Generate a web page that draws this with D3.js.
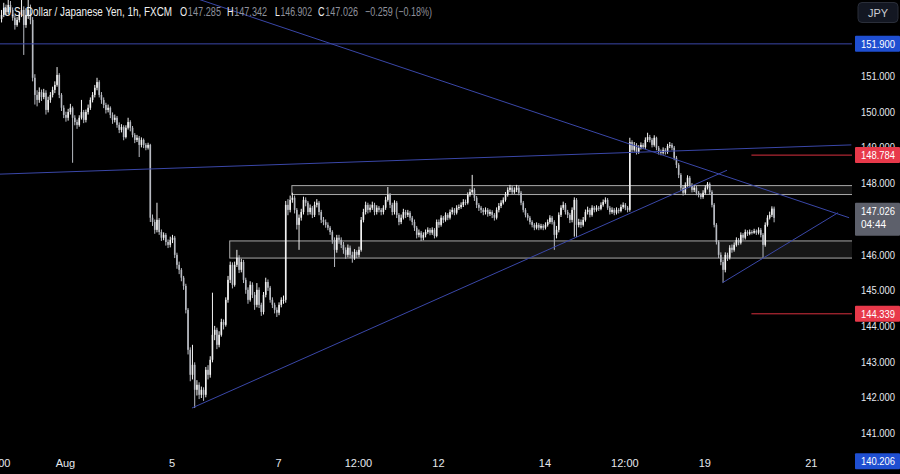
<!DOCTYPE html>
<html><head><meta charset="utf-8">
<script src="https://cdn.jsdelivr.net/npm/d3@7"></script>
<style>html,body{margin:0;padding:0;background:#000;overflow:hidden}svg{display:block}</style>
</head><body><svg id="c" width="900" height="474"></svg>
<script>
// ---------- DATA ----------
const firstBarIndex = -77;   // bar index of first candle (0 = Aug 5 00:00, hourly bars)
const firstOpen = 152.60;
const closes = [
152.71,152.91,152.79,152.99,152.85,152.63,152.43,152.57,152.71,152.85,152.43,152.71,152.85,152.57,
150.95,150.47,150.33,150.55,150.41,150.53,150.05,150.33,150.47,150.61,150.75,151.03,150.47,150.11,149.91,
149.83,149.99,150.11,149.83,149.71,149.63,149.83,149.99,149.77,149.99,150.11,150.33,150.47,150.67,150.83,150.47,150.33,150.19,150.05,150.11,149.91,149.77,149.83,149.63,
149.49,149.57,149.29,149.55,149.71,149.55,149.35,149.21,149.27,149.07,149.21,149.07,148.99,149.07,147.03,146.91,146.69,146.97,146.63,146.47,146.55,146.35,146.27,146.41,
146.47,145.99,145.71,145.57,145.35,145.12,144.45,143.33,142.63,142.91,142.21,142.35,142.07,142.21,142.07,142.77,142.63,143.05,143.75,143.89,143.47,143.75,144.11,144.03,
144.73,145.29,145.71,145.15,145.71,145.91,145.57,145.79,145.29,145.01,144.73,145.15,144.87,144.59,145.01,144.59,144.39,144.87,145.23,145.07,144.73,144.59,144.45,144.37,
144.59,144.73,144.73,147.39,147.25,147.53,147.59,147.25,146.83,147.03,147.19,147.53,147.45,147.19,147.31,147.11,147.39,147.45,147.19,146.97,146.91,146.83,146.75,146.63,
146.41,146.13,146.47,146.41,146.27,146.13,145.99,146.19,145.99,145.91,146.07,145.99,146.13,146.97,147.19,147.39,147.25,147.31,147.39,147.19,147.31,147.25,147.19,147.31,
147.53,147.67,147.39,147.19,147.45,147.11,146.91,147.03,147.19,147.11,147.17,147.03,146.91,146.75,146.55,146.61,146.47,146.55,146.63,146.69,146.61,146.69,146.52,146.91,
146.83,147.03,146.97,147.11,147.03,147.19,147.25,147.17,147.31,147.33,147.39,147.47,147.45,147.67,147.75,147.81,147.59,147.39,147.31,147.25,147.19,147.25,147.14,147.19,
147.11,147.03,147.25,147.36,147.45,147.53,147.67,147.81,147.87,147.75,147.81,147.87,147.73,147.45,147.25,147.11,147.03,146.91,146.83,146.75,146.83,146.75,146.80,146.75,
146.83,146.91,147.03,146.91,146.55,146.69,147.11,147.31,147.39,147.19,147.11,146.97,147.25,147.53,146.83,146.91,146.83,146.97,147.19,147.25,147.11,147.31,147.25,147.31,
147.28,147.39,147.47,147.53,147.31,147.19,147.25,147.17,147.25,147.22,147.33,147.39,147.31,147.25,149.15,148.93,149.07,148.87,148.99,149.07,149.01,149.21,149.29,149.21,
149.07,149.27,148.99,148.87,148.85,148.93,148.87,149.04,149.07,148.99,148.71,148.51,148.23,147.87,147.73,147.95,148.15,147.95,147.81,147.87,147.73,147.67,147.61,147.73,
147.87,147.98,147.75,147.39,146.83,146.35,145.99,145.79,145.57,145.99,145.91,146.19,146.13,146.27,146.41,146.33,146.55,146.47,146.63,146.58,146.63,146.61,146.66,146.61,
146.69,146.55,146.27,146.83,147.03,147.11,147.285,147.026];
const highs = [
152.85,153.05,153.00,153.30,153.10,152.92,152.70,152.65,152.80,153.20,152.95,152.90,153.25,153.00,
152.65,151.05,150.60,150.68,150.62,150.64,150.60,150.42,150.55,150.70,150.85,151.25,151.08,150.52,150.18,
150.00,150.08,150.22,150.15,149.90,149.78,149.90,150.33,150.05,150.06,150.20,150.40,150.55,150.75,150.95,150.88,150.55,150.40,150.25,150.20,150.15,149.98,149.92,149.88,
149.70,149.65,149.62,149.62,149.83,149.76,149.60,149.40,149.35,149.32,149.28,149.25,149.12,149.13,149.10,147.12,146.98,147.45,147.02,146.70,146.62,146.60,146.42,146.50,
146.55,146.52,146.05,145.80,145.62,145.40,145.18,144.50,143.40,143.47,142.98,142.48,142.42,142.30,142.28,142.85,142.90,143.15,144.93,144.00,143.95,143.85,144.20,144.18,
144.80,145.40,145.80,145.78,145.80,146.13,145.98,145.88,145.85,145.35,145.08,145.25,145.22,144.95,145.20,145.08,144.65,144.95,145.35,145.30,145.12,144.80,144.65,144.52,
144.66,144.80,144.85,147.50,147.55,147.65,147.73,147.65,147.30,147.12,147.28,147.62,147.60,147.50,147.40,147.36,147.48,147.55,147.50,147.25,147.05,146.98,146.90,146.80,
146.68,146.48,146.55,146.55,146.48,146.35,146.20,146.28,146.25,146.08,146.15,146.12,146.22,147.05,147.28,147.48,147.45,147.40,147.48,147.45,147.38,147.36,147.30,147.38,
147.62,147.89,147.72,147.45,147.52,147.50,147.16,147.12,147.28,147.25,147.25,147.22,147.08,146.98,146.80,146.70,146.66,146.62,146.70,146.76,146.74,146.76,146.74,146.98,
146.98,147.10,147.08,147.18,147.16,147.26,147.32,147.30,147.38,147.40,147.46,147.55,147.54,147.74,147.84,148.23,147.86,147.64,147.44,147.36,147.30,147.32,147.30,147.26,
147.24,147.16,147.32,147.44,147.52,147.60,147.75,147.88,147.95,147.92,147.88,147.95,147.92,147.78,147.50,147.30,147.16,147.08,146.96,146.88,146.90,146.88,146.86,146.85,
146.90,146.98,147.10,147.08,146.96,146.80,147.18,147.38,147.48,147.44,147.25,147.16,147.32,147.60,147.58,147.00,146.98,147.05,147.26,147.34,147.30,147.38,147.36,147.38,
147.36,147.46,147.54,147.60,147.58,147.36,147.32,147.30,147.32,147.30,147.40,147.46,147.44,147.36,149.27,149.20,149.15,149.12,149.06,149.14,149.12,149.28,149.41,149.35,
149.26,149.34,149.30,149.04,148.94,149.00,148.98,149.10,149.15,149.12,149.04,148.76,148.56,148.28,147.94,148.02,148.22,148.20,148.00,147.94,147.92,147.78,147.72,147.80,
147.94,148.03,148.02,147.80,147.44,146.88,146.40,146.06,145.86,146.06,146.05,146.26,146.28,146.34,146.48,146.46,146.62,146.60,146.70,146.68,146.70,146.68,146.72,146.70,
146.76,146.74,146.60,146.90,147.10,147.20,147.35,147.342];
const lows = [
152.50,152.65,152.70,152.72,152.78,152.55,152.30,152.38,152.50,152.65,151.59,152.35,152.60,152.45,
150.85,150.20,150.15,150.25,150.30,150.35,149.92,149.98,150.25,150.40,150.52,150.70,150.38,150.02,149.82,
149.72,149.75,149.92,148.57,149.62,149.52,149.58,149.78,149.68,149.70,149.92,150.05,150.26,150.40,150.60,150.40,150.22,150.10,149.95,149.98,149.82,149.66,149.70,149.55,
149.40,149.42,149.20,149.25,149.50,149.45,149.28,149.12,149.15,148.73,149.00,148.98,148.92,148.94,146.91,146.80,146.58,146.62,146.55,146.38,146.40,146.25,146.18,146.20,
146.32,145.90,145.60,145.45,145.25,145.01,144.35,143.20,142.45,142.50,141.70,142.05,141.95,141.98,141.90,142.00,142.50,142.55,142.98,143.60,143.35,143.40,143.70,143.90,
143.98,144.65,145.20,145.05,145.10,145.65,145.48,145.50,145.20,144.90,144.62,144.68,144.78,144.45,144.52,144.50,144.28,144.32,144.80,144.98,144.65,144.50,144.35,144.25,
144.30,144.52,144.62,144.65,147.10,147.18,147.45,147.15,146.70,146.13,146.95,147.12,147.35,147.10,147.12,147.02,147.05,147.32,147.10,146.88,146.82,146.75,146.68,146.55,
146.30,145.65,146.05,146.30,146.18,146.02,145.88,145.92,145.90,145.77,145.85,145.90,145.92,146.08,146.90,147.12,147.15,147.18,147.25,147.10,147.12,147.18,147.10,147.12,
147.25,147.48,147.30,147.10,147.12,147.02,146.82,146.85,146.98,147.02,147.05,146.95,146.82,146.66,146.45,146.48,146.38,146.40,146.48,146.58,146.54,146.55,146.45,146.48,
146.75,146.78,146.88,146.92,146.96,146.98,147.12,147.10,147.12,147.25,147.28,147.33,147.38,147.40,147.62,147.70,147.50,147.30,147.22,147.16,147.10,147.12,147.06,147.08,
147.02,146.95,146.98,147.18,147.30,147.40,147.48,147.62,147.75,147.68,147.70,147.75,147.66,147.38,147.18,147.04,146.95,146.84,146.76,146.68,146.70,146.68,146.70,146.68,
146.70,146.78,146.86,146.84,146.13,146.45,146.62,147.05,147.25,147.12,147.02,146.88,146.90,146.50,146.49,146.76,146.74,146.78,146.92,147.12,147.04,147.06,147.18,147.20,
147.22,147.24,147.34,147.42,147.25,147.12,147.14,147.10,147.12,147.15,147.18,147.28,147.24,147.18,147.20,148.85,148.88,148.80,148.82,148.94,148.95,148.96,149.15,149.14,
149.00,149.02,148.92,148.80,148.78,148.80,148.80,148.82,148.98,148.92,148.64,148.42,148.14,147.78,147.65,147.68,147.90,147.88,147.74,147.75,147.66,147.60,147.55,147.56,
147.68,147.82,147.68,147.32,146.76,146.28,145.90,145.70,145.21,145.50,145.82,145.86,146.05,146.08,146.22,146.26,146.28,146.40,146.42,146.52,146.54,146.56,146.58,146.55,
146.56,146.48,145.91,146.22,146.78,146.98,147.05,146.902];

const xTickIndex  = [-79, -48, 0, 48, 84, 120, 168, 204, 240, 288];
const xTickLabels = ["12:00", "Aug", "5", "7", "12:00", "12", "14", "12:00", "19", "21"];
const yTickValues = [141,142,143,144,145,146,147,148,149,150,151,152];

// trend lines: [barIndex, price] endpoints
const trendNearFlat  = [[-78, 148.25], [306, 149.07]];
const trendFalling   = [[12, 153.15], [305, 147.03]];
const trendRising    = [[9, 141.70], [250, 148.36]];
const trendRisingNew = [[248, 145.21], [300, 147.17]];
// horizontal levels
const levelBlue = 151.900;
const levelRedHigh = 148.784;
const levelRedLow  = 144.339;
const redLevelStart = 261;
// zones [startIndex, top, bottom]
const zones = [[54, 147.93, 147.68], [26, 146.38, 145.90]];
// header
const symbolTitle = "U.S. Dollar / Japanese Yen, 1h, FXCM";
const ohlcHeader = [["O","147.285"],["H","147.342"],["L","146.902"],["C","147.026"]];
const changeText = "\u22120.259 (\u22120.18%)";
const lastPrice = 147.026, countdown = "04:44", lowMark = 140.206;

// ---------- CHART ----------
const W = 900, H = 474, plotRight = 852;
const svg = d3.select("#c");
svg.append("rect").attr("width", W).attr("height", H).attr("fill", "#000");

const x = d3.scaleLinear().domain([0, 1]).range([172, 174.22]);
const y = d3.scaleLinear().domain([151, 141]).range([76, 433]);

svg.append("defs").append("clipPath").attr("id", "plot")
  .append("rect").attr("x", 0).attr("y", 0).attr("width", plotRight).attr("height", 452);

const g = svg.append("g").attr("clip-path", "url(#plot)");

// zones
zones.forEach(([s, t, b]) => {
  g.append("rect").attr("x", x(s)).attr("y", y(t))
    .attr("width", plotRight - x(s) + 2).attr("height", y(b) - y(t))
    .attr("fill", "#161616").attr("stroke", "#a9a9a9").attr("stroke-width", 1);
});

// candles
const bars = closes.map((c, k) => {
  const o = k ? closes[k - 1] : firstOpen;
  return { i: firstBarIndex + k, o, c, h: Math.max(highs[k], o, c), l: Math.min(lows[k], o, c) };
});
const cg = g.append("g");
cg.selectAll("line.w").data(bars).join("line")
  .attr("x1", d => x(d.i) + 0.5).attr("x2", d => x(d.i) + 0.5)
  .attr("y1", d => y(d.h)).attr("y2", d => y(d.l))
  .attr("stroke", d => d.c >= d.o ? "#f2f2f2" : "#b8bbc2").attr("stroke-width", 1);
cg.selectAll("rect.b").data(bars).join("rect")
  .attr("x", d => x(d.i) - 0.3).attr("width", 1.6)
  .attr("y", d => y(Math.max(d.o, d.c)))
  .attr("height", d => Math.max(1, Math.abs(y(d.o) - y(d.c))))
  .attr("fill", d => d.c >= d.o ? "#f2f2f2" : "#b8bbc2");

// trend lines
const lineGen = d3.line().x(d => x(d[0])).y(d => y(d[1]));
[trendNearFlat, trendFalling, trendRising, trendRisingNew].forEach(t => {
  g.append("path").attr("d", lineGen(t)).attr("fill", "none")
    .attr("stroke", "#3a47a8").attr("stroke-width", 1);
});
// horizontal levels
g.append("line").attr("x1", 0).attr("x2", plotRight).attr("y1", y(levelBlue)).attr("y2", y(levelBlue))
  .attr("stroke", "#3a47a8").attr("stroke-width", 1);
[levelRedHigh, levelRedLow].forEach(v => {
  g.append("line").attr("x1", x(redLevelStart)).attr("x2", plotRight).attr("y1", y(v)).attr("y2", y(v))
    .attr("stroke", "#d8303e").attr("stroke-width", 1);
});

// right price axis
const fontAxis = "'Liberation Sans', Arial, sans-serif";
function fitText(sel, len) {
  return sel.attr("textLength", len).attr("lengthAdjust", "spacingAndGlyphs");
}
const ax = svg.append("g");
fitText(ax.selectAll("text").data(yTickValues).join("text")
  .attr("x", 861).attr("y", d => y(d) + 4)
  .attr("fill", "#e6e8ee").attr("font-family", fontAxis).attr("font-size", 11)
  .text(d => d3.format(".3f")(d)), 34);

function priceTag(v, fill, lines) {
  const hgt = lines.length > 1 ? 33 : 16;
  const top = lines.length > 1 ? y(v) - 15 : y(v) - 8;
  svg.append("rect").attr("x", 855).attr("y", top).attr("width", 45).attr("height", hgt)
    .attr("fill", fill).attr("rx", 1);
  lines.forEach((t, k) => fitText(svg.append("text").attr("x", 861).attr("y", top + 12 + k * 13)
    .attr("fill", "#fff").attr("font-family", fontAxis).attr("font-size", 11).text(t), t.length > 5 ? 34 : 25));
}
priceTag(levelBlue, "#1f4fd1", [d3.format(".3f")(levelBlue)]);
priceTag(levelRedHigh, "#e8394a", [d3.format(".3f")(levelRedHigh)]);
priceTag(levelRedLow, "#e8394a", [d3.format(".3f")(levelRedLow)]);
priceTag(lowMark, "#1f4fd1", [d3.format(".3f")(lowMark)]);
priceTag(lastPrice, "#5d606b", [d3.format(".3f")(lastPrice), countdown]);

// time axis
svg.selectAll("text.xt").data(xTickIndex).join("text")
  .attr("x", d => x(d)).attr("y", 467).attr("text-anchor", "middle")
  .attr("fill", "#e6e8ee").attr("font-family", fontAxis).attr("font-size", 11)
  .text((d, k) => xTickLabels[k]);

// JPY button
svg.append("rect").attr("x", 858).attr("y", 2.5).attr("width", 40).attr("height", 20).attr("rx", 4)
  .attr("fill", "#131722").attr("stroke", "#2a2e39");
svg.append("text").attr("x", 878).attr("y", 17).attr("text-anchor", "middle")
  .attr("fill", "#c9ccd4").attr("font-family", fontAxis).attr("font-size", 11).text("JPY");

// header
const fontHead = "'Liberation Sans Narrow', 'Liberation Sans', Arial, sans-serif";
function headText(xPos, len) {
  return fitText(svg.append("text").attr("x", xPos).attr("y", 16).attr("font-family", fontHead)
    .attr("font-size", 12.5), len);
}
headText(4, 168).attr("fill", "#f0f0f0").text(symbolTitle);
const headerSpans = [[180, 41], [227, 40], [275, 37], [318, 40]];
ohlcHeader.forEach(([k, v], n) => {
  const t = headText(headerSpans[n][0], headerSpans[n][1]);
  t.append("tspan").attr("fill", "#f0f0f0").text(k);
  t.append("tspan").attr("fill", "#8e919b").attr("dx", 1).text(v);
});
headText(365, 67).attr("fill", "#8e919b").text(changeText);
</script></body></html>
